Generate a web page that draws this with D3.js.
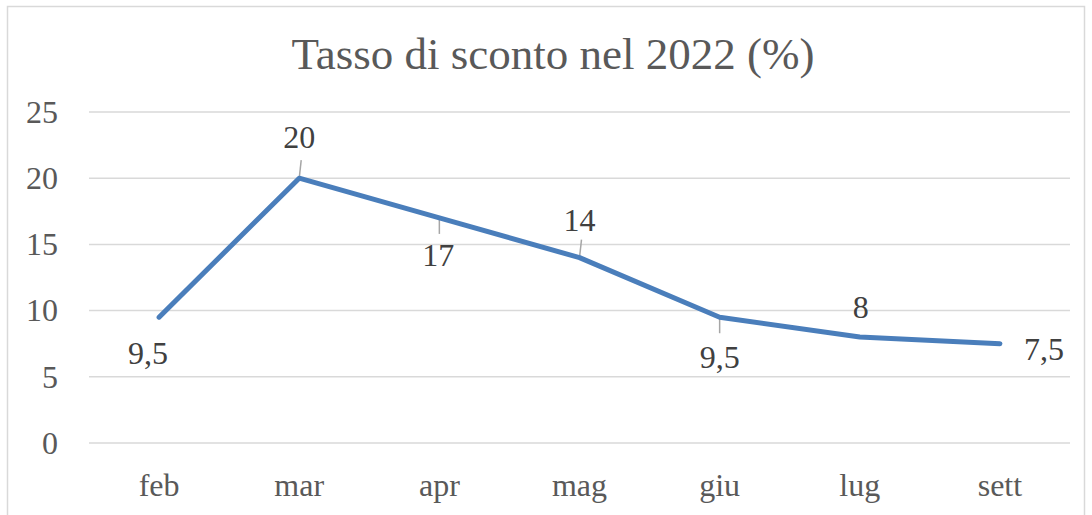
<!DOCTYPE html>
<html>
<head>
  <meta charset="utf-8" />
  <title>Tasso di sconto nel 2022</title>
  <script src="https://d3js.org/d3.v7.min.js"></script>
  <style>
    body { margin: 0; background: #fff; }
    svg text { font-family: "Liberation Serif", "DejaVu Serif", serif; fill: #595959; }
  </style>
</head>
<body>
  <svg id="chart" width="1092" height="515"></svg>
  <script>
    // data
    var months = ["feb", "mar", "apr", "mag", "giu", "lug", "sett"];
    var rates = [9.5, 20, 17, 14, 9.5, 8, 7.5];
    var yTicks = [0, 5, 10, 15, 20, 25];
    var rateLabels = ["9,5", "20", "17", "14", "9,5", "8", "7,5"];

    // label placement (dx, dy from point) and whether a leader line is drawn
    var labelOffsets = [[-11, 36], [0, -41], [-1, 37], [0, -38], [0, 40], [1, -30], [44, 5]];
    var leaders = [false, true, true, true, true, false, false];

    (function () {
      var svg = d3.select("#chart");
      var plotLeft = 89, plotRight = 1070, plotTop = 112, plotBottom = 443;

      // chart frame
      svg.append("rect")
        .attr("x", 7.5).attr("y", 6.5)
        .attr("width", 1077).attr("height", 520)
        .attr("fill", "#fff")
        .attr("stroke", "#d9d9d9")
        .attr("stroke-width", 1.5);

      svg.append("text")
        .attr("x", 553).attr("y", 69)
        .attr("text-anchor", "middle")
        .style("font-size", "45px")
        .text("Tasso di sconto nel 2022 (%)");

      var x = d3.scaleBand().domain(months).range([plotLeft, plotRight]);
      var y = d3.scaleLinear().domain([0, 25]).range([plotBottom, plotTop]);

      // gridlines
      svg.append("g")
        .selectAll("line")
        .data(yTicks)
        .enter().append("line")
        .attr("x1", plotLeft).attr("x2", plotRight)
        .attr("y1", function (d) { return y(d); })
        .attr("y2", function (d) { return y(d); })
        .attr("stroke", "#d9d9d9")
        .attr("stroke-width", 1.5);

      // y axis
      var yAxis = svg.append("g")
        .attr("transform", "translate(" + (plotLeft - 31) + ",0)")
        .call(d3.axisLeft(y).tickValues(yTicks).tickSize(0).tickPadding(0));
      yAxis.select(".domain").remove();
      yAxis.selectAll("text").style("font-size", "32px").attr("fill", "#595959");

      // x axis
      var xAxis = svg.append("g")
        .attr("transform", "translate(0," + plotBottom + ")")
        .call(d3.axisBottom(x).tickSize(0).tickPadding(30));
      xAxis.select(".domain").remove();
      xAxis.selectAll("text").style("font-size", "32px").attr("fill", "#595959");

      var px = function (i) { return x(months[i]) + x.bandwidth() / 2; };

      // leader lines
      svg.append("g")
        .selectAll("line")
        .data(rates.map(function (v, i) { return i; }).filter(function (i) { return leaders[i]; }))
        .enter().append("line")
        .attr("x1", function (i) { return px(i); })
        .attr("x2", function (i) { return px(i) + (labelOffsets[i][1] < 0 ? 2 : 0); })
        .attr("y1", function (i) { return y(rates[i]); })
        .attr("y2", function (i) { return y(rates[i]) + (labelOffsets[i][1] < 0 ? -18 : 16); })
        .attr("stroke", "#a6a6a6")
        .attr("stroke-width", 1.5);

      // line
      var line = d3.line()
        .x(function (d, i) { return px(i); })
        .y(function (d) { return y(d); });

      svg.append("path")
        .datum(rates)
        .attr("d", line)
        .attr("fill", "none")
        .attr("stroke", "#4a7ebb")
        .attr("stroke-width", 5)
        .attr("stroke-linecap", "round")
        .attr("stroke-linejoin", "round");

      // data labels
      svg.append("g")
        .selectAll("text")
        .data(rates)
        .enter().append("text")
        .attr("x", function (d, i) { return px(i) + labelOffsets[i][0]; })
        .attr("y", function (d, i) { return y(d) + labelOffsets[i][1]; })
        .attr("text-anchor", "middle")
        .attr("dominant-baseline", "central")
        .style("font-size", "32px")
        .style("fill", "#404040")
        .text(function (d, i) { return rateLabels[i]; });
    })();
  </script>
</body>
</html>
